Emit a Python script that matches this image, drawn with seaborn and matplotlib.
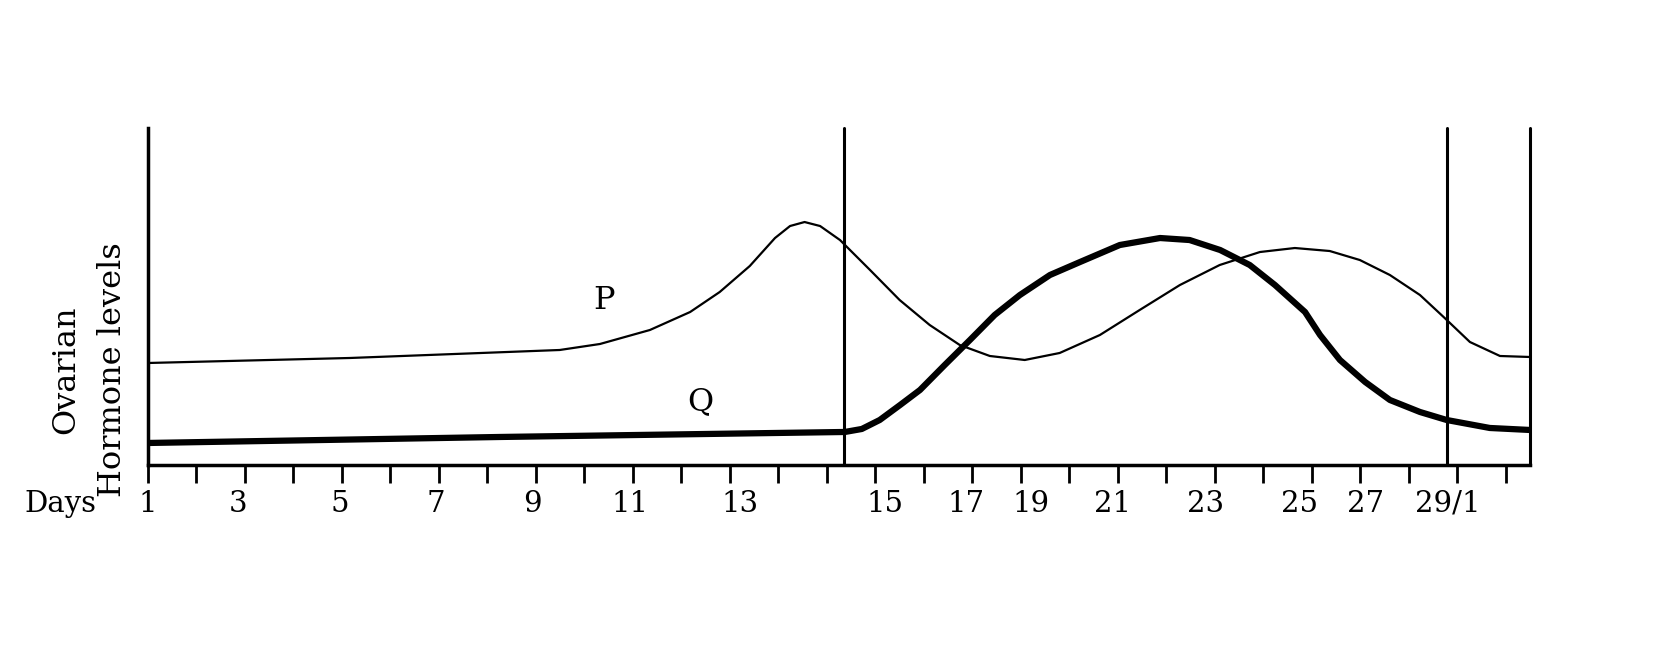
import matplotlib
matplotlib.use("Agg")
import matplotlib.pyplot as plt
import seaborn as sns
import pandas as pd

sns.set_theme(style="white")
plt.rcParams['font.family'] = ['DejaVu Serif']
plt.rcParams['text.color'] = 'black'

# x in tick units (one tick per day step), y in level units
p_x = [0, 4.16, 8.49, 9.32, 10.35, 11.18, 11.79, 12.41, 12.93, 13.24, 13.54, 13.86, 14.27, 14.89, 15.5, 16.12, 16.74,
       17.36, 18.08, 18.80, 19.63, 20.45, 21.28, 22.10, 22.93, 23.65, 24.37, 24.99, 25.61, 26.23, 26.74, 27.26, 27.88, 28.5]
p_y = [102, 107, 115, 121, 135, 153, 173, 199, 227, 239, 243, 239, 225, 195, 165, 140, 120,
       109, 105, 112, 130, 155, 180, 200, 213, 217, 214, 205, 190, 170, 147, 123, 109, 108]
q_x = [0, 7.26, 14.37, 14.72, 15.09, 15.51, 15.92, 16.43, 16.95, 17.46, 17.98, 18.6, 19.22, 20.04,
       20.87, 21.48, 22.11, 22.72, 23.24, 23.86, 24.17, 24.58, 25.1, 25.61, 26.23, 26.78, 27.67, 28.5]
q_y = [22, 28, 33, 36, 45, 60, 75, 100, 125, 150, 170, 190, 203, 220,
       227, 225, 215, 200, 180, 153, 130, 105, 83, 65, 53, 45, 37, 35]
tick_labels = ["1", "3", "5", "7", "9", "11", "13", "15", "17", "19", "21", "23", "25", "27", "29/1"]
label_pos = [0, 1.86, 3.96, 5.94, 7.92, 9.94, 12.2, 15.2, 16.87, 18.2, 19.9, 21.8, 23.75, 25.1, 26.8]
vlines = [14.35, 26.78, 28.5]

fig = plt.figure(figsize=(16.74, 6.6), dpi=100)
ax = fig.add_axes([0.0884, 0.2955, 0.9140 - 0.0884, 0.806 - 0.2955])
sns.lineplot(data=pd.DataFrame({"x": p_x, "y": p_y}), x="x", y="y", ax=ax, color="black", lw=1.6,
             solid_joinstyle="round")
sns.lineplot(data=pd.DataFrame({"x": q_x, "y": q_y}), x="x", y="y", ax=ax, color="black", lw=4.5,
             solid_joinstyle="round", solid_capstyle="round")
for v in vlines:
    ax.axvline(v, color="black", lw=2.2, clip_on=False)
ax.set_xlim(0, 28.5)
ax.set_ylim(0, 337)
for s in ["top", "right"]:
    ax.spines[s].set_visible(False)
for s in ["left", "bottom"]:
    ax.spines[s].set_color("black")
    ax.spines[s].set_linewidth(2.5)
ax.set_yticks([])
ax.set_xticks(range(0, 29))
ax.set_xticklabels([])
ax.tick_params(axis="x", direction="out", length=13, width=2, color="black", bottom=True)
ax.set_xlabel("")
ax.set_ylabel("")
for lab, pos in zip(tick_labels, label_pos):
    ax.text(pos, -0.115, lab, transform=ax.get_xaxis_transform(), ha="center", va="center", fontsize=21)
ax.text(-0.063, -0.115, "Days", transform=ax.transAxes, ha="center", va="center", fontsize=21)
ax.text(9.4, 165, "P", fontsize=23, ha="center", va="center")
ax.text(11.4, 63, "Q", fontsize=23, ha="center", va="center")
fig.text(0.039, 0.44, "Ovarian", rotation=90, ha="center", va="center", fontsize=23)
fig.text(0.067, 0.44, "Hormone levels", rotation=90, ha="center", va="center", fontsize=23)
fig.savefig("out.png", dpi=100, facecolor="white")
